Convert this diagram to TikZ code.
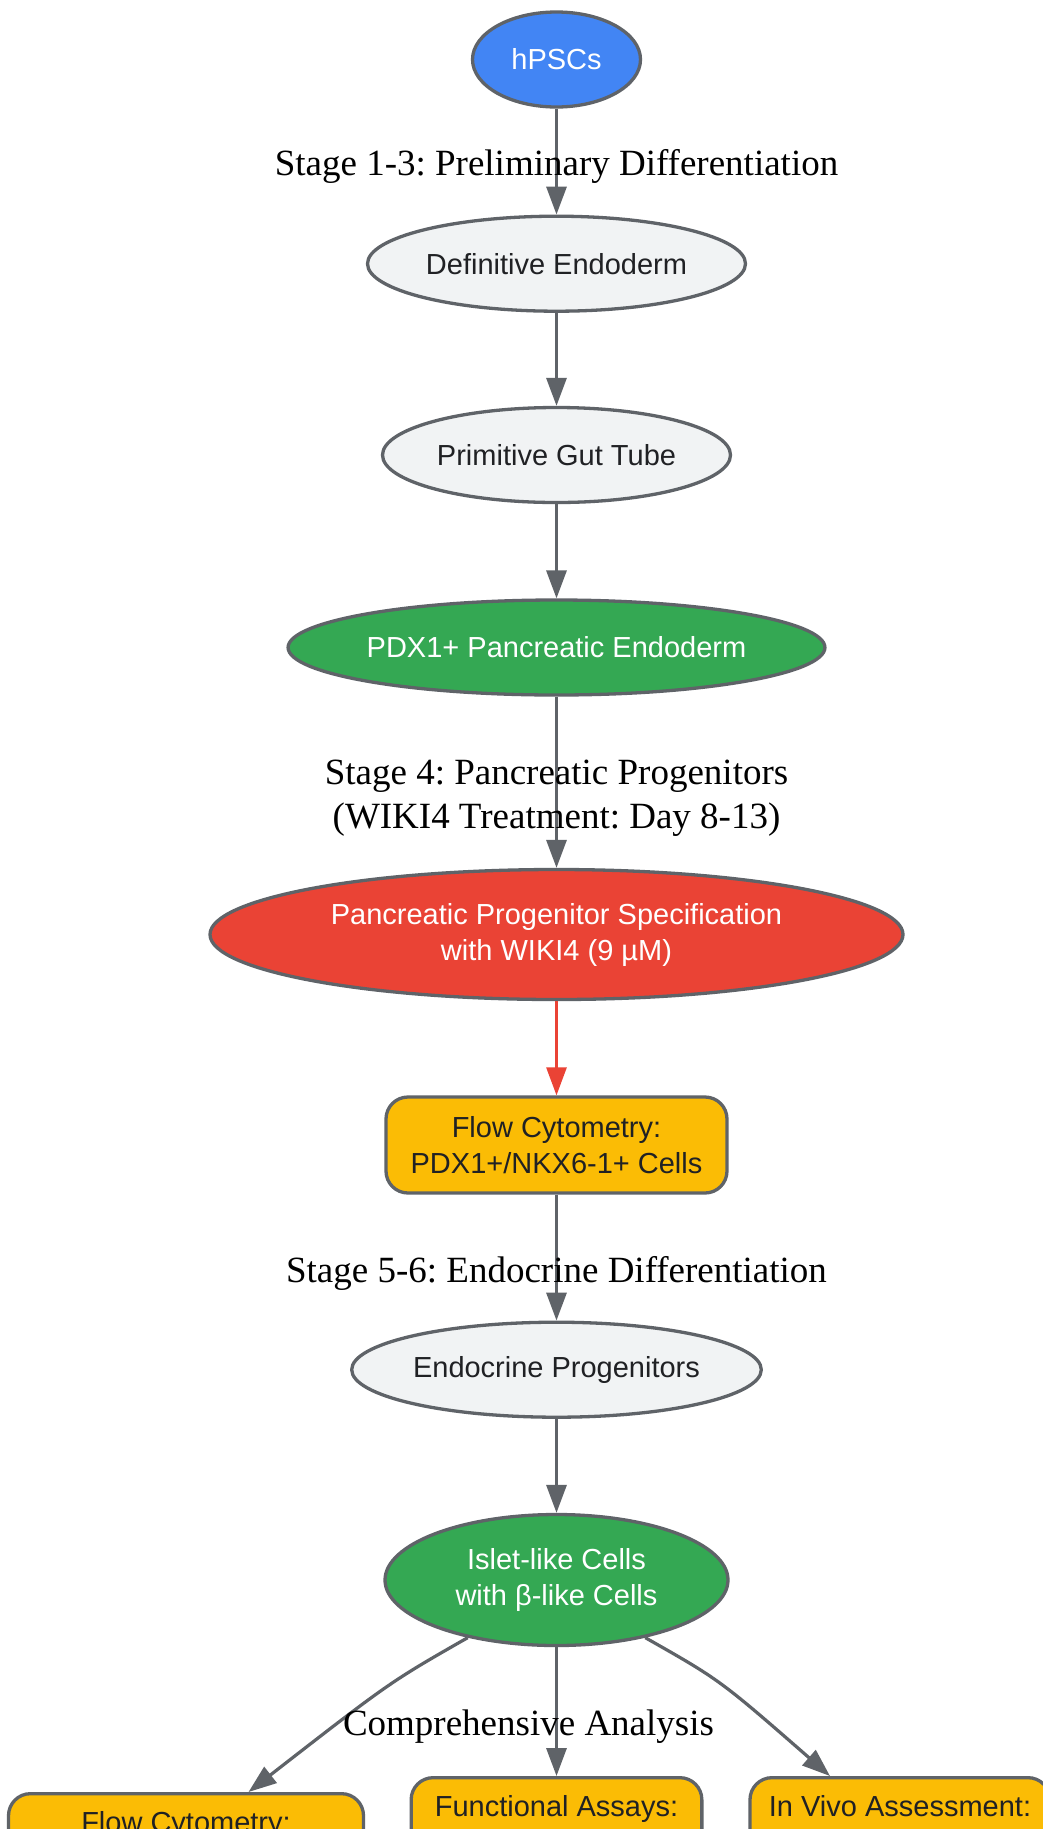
\documentclass[tikz,border=0pt]{standalone}
\usepackage{fontspec}
\setmainfont{Liberation Sans}
\newfontfamily\lblfont{Liberation Serif}
\usetikzlibrary{shapes.geometric,arrows.meta}
\definecolor{gborder}{HTML}{5F6368}
\definecolor{cblue}{HTML}{4285F4}
\definecolor{cgray}{HTML}{F1F3F4}
\definecolor{cgreen}{HTML}{34A853}
\definecolor{cred}{HTML}{EA4335}
\definecolor{cyellow}{HTML}{FBBC05}
\definecolor{ctext}{HTML}{202124}
\newcommand\nfsize{\fontsize{29}{36}\selectfont}
\frenchspacing
\tikzset{
 ell/.style={ellipse, draw=gborder, line width=3.3pt, inner sep=0pt, align=center, font=\nfsize, minimum height=95pt},
 boxn/.style={rectangle, rounded corners=22pt, draw=gborder, line width=3.3pt, fill=cyellow, text=ctext, align=center, font=\nfsize},
 arr/.style={draw=gborder, line width=3.2pt, -{Triangle[length=28pt,width=20pt]}},
 lbl/.style={font=\lblfont\frenchspacing\fontsize{37}{44.3}\selectfont, align=center, inner sep=0pt, text=black},
}
\begin{document}
\begin{tikzpicture}[x=1pt,y=-1pt]
\useasboundingbox (0,0) rectangle (1043,1829);
\clip (0,0) rectangle (1043,1829);
\fill[white] (0,0) rectangle (1043,1829);

% nodes
\node[ell, fill=cblue, text=white, minimum width=168pt] (hpsc) at (556.5,59.5) {hPSCs};
\node[ell, fill=cgray, text=ctext, minimum width=378pt] (de) at (556.5,263.7) {Definitive Endoderm};
\node[ell, fill=cgray, text=ctext, minimum width=348pt] (pgt) at (556.5,455) {Primitive Gut Tube};
\node[ell, fill=cgreen, text=white, minimum width=530pt] (pe) at (556.5,647.5) {PDX1+ Pancreatic Endoderm};
\node[ell, fill=cred, text=white, minimum width=693pt, minimum height=130pt] (pps) at (556.5,934.5) {Pancreatic Progenitor Specification\\with WIKI4 (9 µM)};
\node[boxn, minimum width=341pt, minimum height=96pt] (fc1) at (556.5,1145) {Flow Cytometry:\\PDX1+/NKX6-1+ Cells};
\node[ell, fill=cgray, text=ctext, minimum width=409.6pt] (ep) at (556.5,1369.7) {Endocrine Progenitors};
\node[ell, fill=cgreen, text=white, minimum width=343pt, minimum height=131pt] (ilc) at (556.5,1580) {Islet-like Cells\\with β-like Cells};

% bottom boxes (cut by the frame)
\node[boxn, anchor=north, minimum width=355pt, inner ysep=18pt, text height=21pt, text depth=120pt] (fc2) at (186,1792) {Flow Cytometry:};
\node[boxn, anchor=north, minimum width=290.7pt, inner ysep=18pt, text height=21pt, text depth=120pt] (fa) at (556.5,1776) {Functional Assays:};
\node[boxn, anchor=north, minimum width=300pt, inner ysep=18pt, text height=21pt, text depth=120pt] (iv) at (900,1776) {In Vivo Assessment:};

% connectors
\draw[arr] (hpsc) -- (de);
\draw[arr] (de) -- (pgt);
\draw[arr] (pgt) -- (pe);
\draw[arr] (pe) -- (pps);
\draw[arr, draw=cred, line width=2.8pt, -{Triangle[length=28pt,width=20pt]}, cred] (pps) -- (fc1);
\draw[arr] (fc1) -- (ep);
\draw[arr] (ep) -- (ilc);
\draw[arr] (ilc.213) .. controls (390,1682) .. ([xshift=62.5pt]fc2.north);
\draw[arr] (ilc) -- (fa);
\draw[arr] (ilc.327) .. controls (720,1680) .. ([xshift=-70pt]iv.north);

% stage labels
\node[lbl, anchor=base] (l1) at (556.5,175.5) {Stage 1-3: Preliminary Differentiation};
\node[lbl] (l2) at (556.5,798) {Stage 4: Pancreatic Progenitors\\(WIKI4 Treatment: Day 8-13)};
\node[lbl, anchor=base] (l3) at (556.5,1282) {Stage 5-6: Endocrine Differentiation};
\node[lbl, anchor=base] (l4) at (528.5,1735) {Comprehensive Analysis};
\end{tikzpicture}
\end{document}
